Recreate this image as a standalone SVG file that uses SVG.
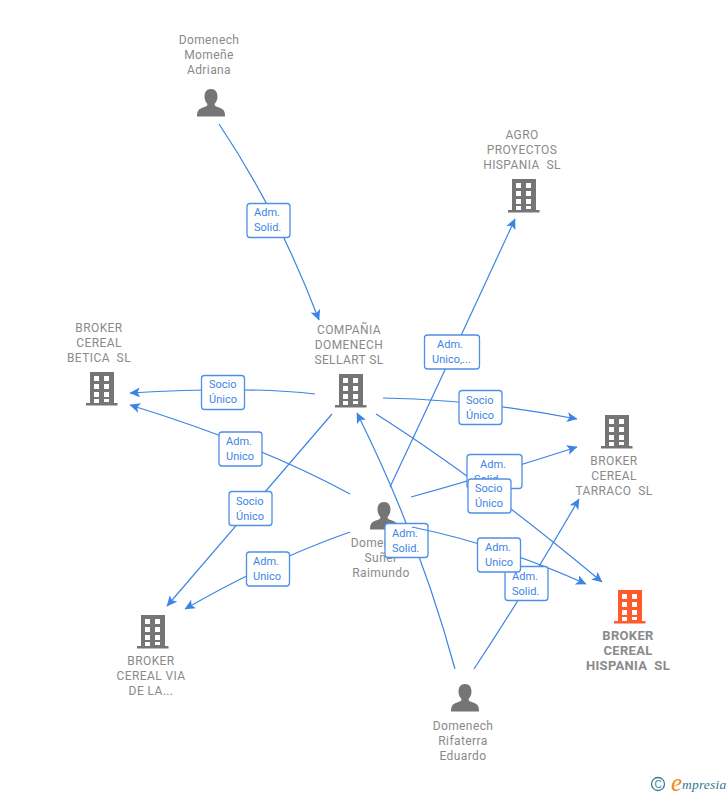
<svg xmlns="http://www.w3.org/2000/svg" width="728" height="795" viewBox="0 0 728 795">
<style>
.n{font-family:Roboto,"Liberation Sans",Arial,sans-serif;font-size:12px;letter-spacing:.4px;fill:#8a8a8a;text-anchor:middle;white-space:pre}
.b{font-weight:bold;font-size:13px;letter-spacing:.3px}
.c{fill:none;stroke:#3c84e4;stroke-width:1.2;marker-end:url(#a)}
.o{fill:none;stroke:#3c84e4;stroke-width:1.2}
.r{fill:#fff;stroke:#4f8fe6;stroke-width:1.3}
.t{font-family:Roboto,"Liberation Sans",Arial,sans-serif;font-size:11px;fill:#3c84e4}
.i{fill:#757575}
</style>
<defs>
<marker id="a" viewBox="0 0 11 10" refX="10" refY="5" markerWidth="11" markerHeight="10" markerUnits="userSpaceOnUse" orient="auto"><path d="M0,0L10.500,5L0,10L2.500,5Z" fill="#3c84e4"/></marker>
<path id="bld" fill-rule="evenodd" d="M2,0H26V31H29.500V33.500H-2V31H2ZM6,4V9H11V4ZM16,4V9H21V4ZM6,12V17H11V12ZM16,12V17H21V12ZM6,20V25H11V20ZM16,20V25H21V20ZM6,27V31H11V27ZM16,27V30H21V27Z"/>
<path id="per" d="M14,0C18.500,0 20.500,3.500 20.500,7.500C20.500,11 19,13.500 17.500,15C17.500,17 19,17.500 22,18.500C26,20 28,21 28,27.500H0C0,21 2,20 6,18.500C9,17.500 10.500,17 10.500,15C9,13.500 7.500,11 7.500,7.500C7.500,3.500 9.500,0 14,0Z"/>
</defs>
<rect width="728" height="795" fill="#fff"/>
<g id="connectors">
<path class="c" d="M219,124Q278,212 319,320"/>
<path class="c" d="M315,394Q250,386 130,393"/>
<path class="c" d="M350,494Q260,445 130,405"/>
<path class="c" d="M332,414Q250,510 167,606"/>
<path class="c" d="M350,532Q270,560 185,609"/>
<path class="c" d="M390,487Q450,360 515,219"/>
<path class="c" d="M383,398Q480,400 577,419"/>
<path class="c" d="M411,497Q490,475 577,447"/>
<path class="c" d="M376,414Q480,480 602,582"/>
<path class="c" d="M412,527Q500,545 586,584"/>
<path class="c" d="M455,669Q420,540 357,413"/>
<path class="c" d="M474,669Q525,592 579,499"/>
</g>
<g id="node-momene"><use href="#per" x="197" y="89" class="i"/><text class="n"><tspan x="209" y="44">Domenech</tspan><tspan x="209" y="59">Momeñe</tspan><tspan x="209" y="74">Adriana</tspan></text></g>
<g id="node-agro"><use href="#bld" x="510" y="179" class="i"/><text class="n"><tspan x="522" y="139">AGRO</tspan><tspan x="522" y="154">PROYECTOS</tspan><tspan x="522" y="169">HISPANIA  SL</tspan></text></g>
<g id="node-compania"><use href="#bld" x="337" y="374" class="i"/><text class="n"><tspan x="349" y="334">COMPAÑIA</tspan><tspan x="349" y="349">DOMENECH</tspan><tspan x="349" y="364">SELLART SL</tspan></text></g>
<g id="node-betica"><use href="#bld" x="88" y="372" class="i"/><text class="n"><tspan x="99" y="332">BROKER</tspan><tspan x="99" y="347">CEREAL</tspan><tspan x="99" y="362">BETICA  SL</tspan></text></g>
<g id="node-tarraco"><use href="#bld" x="603" y="415" class="i"/><text class="n"><tspan x="614" y="465">BROKER</tspan><tspan x="614" y="480">CEREAL</tspan><tspan x="614" y="495">TARRACO  SL</tspan></text></g>
<g id="node-suner"><use href="#per" x="370" y="502" class="i"/><text class="n"><tspan x="381" y="547">Domenech</tspan><tspan x="381" y="562">Suñer</tspan><tspan x="381" y="577">Raimundo</tspan></text></g>
<g id="node-via"><use href="#bld" x="139" y="615" class="i"/><text class="n"><tspan x="151" y="665">BROKER</tspan><tspan x="151" y="680">CEREAL VIA</tspan><tspan x="151" y="695">DE LA...</tspan></text></g>
<g id="node-hispania"><use href="#bld" x="616" y="590" fill="#ff5a2c"/><text class="n b"><tspan x="628" y="640">BROKER</tspan><tspan x="628" y="655">CEREAL</tspan><tspan x="628" y="670">HISPANIA  SL</tspan></text></g>
<g id="node-rifaterra"><use href="#per" x="451" y="684" class="i"/><text class="n"><tspan x="463" y="730">Domenech</tspan><tspan x="463" y="745">Rifaterra</tspan><tspan x="463" y="760">Eduardo</tspan></text></g>
<g id="labels">
<g><rect class="r" x="247" y="203.500" width="43" height="34" rx="3"/><text class="t"><tspan x="254" y="216">Adm.</tspan><tspan x="254" y="231">Solid.</tspan></text></g>
<g><rect class="r" x="201.500" y="375.500" width="43" height="34" rx="3"/><text class="t"><tspan x="209" y="388">Socio</tspan><tspan x="209" y="403">Único</tspan></text></g>
<g><rect class="r" x="219" y="432" width="43" height="34" rx="3"/><text class="t"><tspan x="226" y="445">Adm.</tspan><tspan x="226" y="460">Unico</tspan></text></g>
<g><rect class="r" x="229" y="491.500" width="43" height="34" rx="3"/><text class="t"><tspan x="236" y="505">Socio</tspan><tspan x="236" y="520">Único</tspan></text></g>
<g><rect class="r" x="246.500" y="552" width="43" height="34" rx="3"/><text class="t"><tspan x="253" y="565">Adm.</tspan><tspan x="253" y="580">Unico</tspan></text></g>
<g><rect class="r" x="424.500" y="335" width="55" height="34" rx="3"/><text class="t"><tspan x="437" y="348">Adm.</tspan><tspan x="432" y="363">Unico,...</tspan></text></g>
<g><rect class="r" x="459" y="390.500" width="43" height="34" rx="3"/><text class="t"><tspan x="466" y="404">Socio</tspan><tspan x="466" y="419">Único</tspan></text></g>
<g><rect class="r" x="467" y="454.500" width="55" height="34" rx="3"/><text class="t"><tspan x="480" y="468">Adm.</tspan><tspan x="474" y="483">Solid....</tspan></text></g>
<g><rect class="r" x="468" y="479" width="43" height="34" rx="3"/><text class="t"><tspan x="475" y="492">Socio</tspan><tspan x="475" y="507">Único</tspan></text></g>
<g><rect class="r" x="385" y="523.500" width="43" height="34" rx="3"/><text class="t"><tspan x="392" y="537">Adm.</tspan><tspan x="392" y="552">Solid.</tspan></text></g>
<g><rect class="r" x="505" y="566.500" width="43" height="34" rx="3"/><text class="t"><tspan x="512" y="580">Adm.</tspan><tspan x="512" y="595">Solid.</tspan></text></g>
<g><rect class="r" x="477.500" y="538" width="43" height="34" rx="3"/><text class="t"><tspan x="485" y="551">Adm.</tspan><tspan x="485" y="566">Unico</tspan></text></g>
</g>
<g id="connector-overlay"><path class="o" d="M412,527L428,530.500"/></g>
<g id="logo">
<circle cx="658" cy="784" r="6.500" fill="none" stroke="#3a7d94" stroke-width="1.300"/>
<text x="658" y="788" font-family="Liberation Sans,sans-serif" font-size="10" fill="#3a7d94" text-anchor="middle">C</text>
<text x="671" y="791" font-family="Liberation Serif,serif" font-style="italic" font-size="25" fill="#f08a1d">e</text>
<text x="682" y="789" font-family="Liberation Serif,serif" font-style="italic" font-size="13.500" letter-spacing=".2" fill="#2f7a8c">mpresia</text>
</g>
</svg>
